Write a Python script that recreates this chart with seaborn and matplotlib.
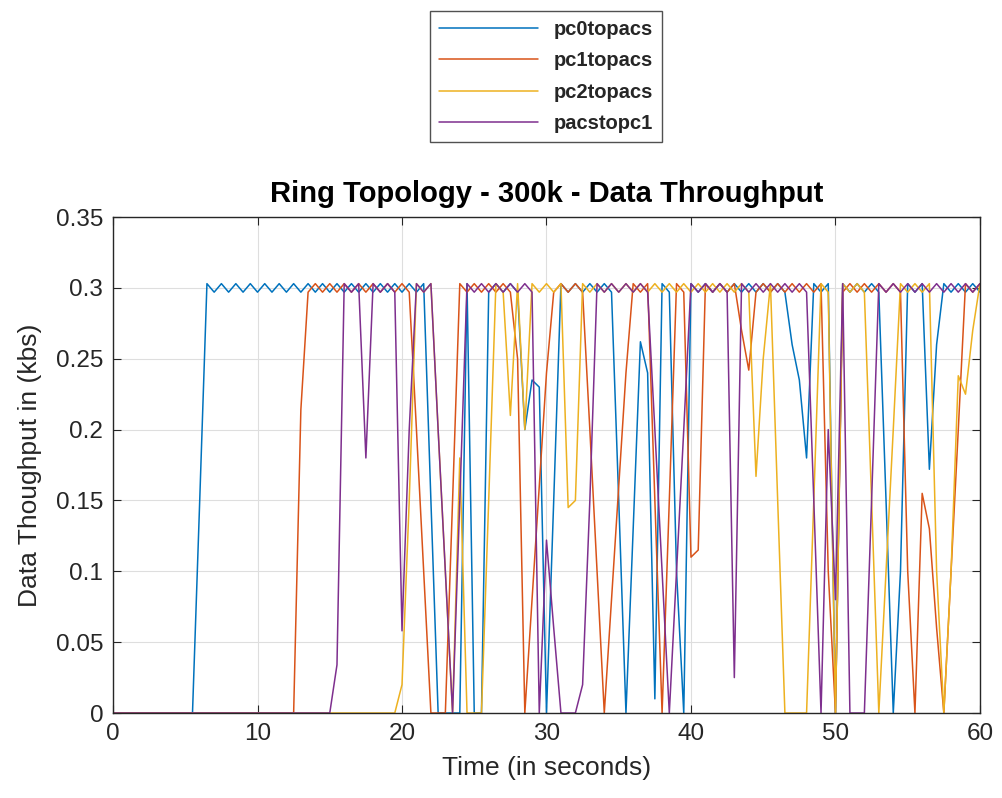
import numpy as np
import pandas as pd
import matplotlib
matplotlib.use("Agg")
import matplotlib.pyplot as plt
import seaborn as sns

# time axis, one sample every 0.5 s
time_s = np.arange(0, 60.5, 0.5)

pc0topacs = [
    0, 0, 0, 0, 0, 0, 0, 0, 0, 0,
    0, 0, .15, .303, .297, .303, .297, .303, .297, .303,
    .297, .303, .297, .303, .297, .303, .297, .303, .297, .303,
    .297, .303, .297, .303, .297, .303, .297, .303, .297, .303,
    .297, .303, .297, .303, .15, 0, 0, 0, 0, .303,
    0, 0, .297, .303, .297, .303, .297, .2, .235, .23,
    0, .15, .303, .297, .303, .297, .303, .297, .303, .297,
    .15, 0, .13, .262, .24, .01, .303, .297, .1, 0,
    .303, .297, .303, .297, .303, .297, .303, .297, .303, .297,
    .303, .297, .303, .297, .26, .235, .18, .303, .297, .303,
    0, .303, .297, .303, .297, .303, .297, .15, 0, .1,
    .303, .297, .303, .172, .26, .303, .297, .303, .297, .303,
    .297,
]

pc1topacs = [
    0, 0, 0, 0, 0, 0, 0, 0, 0, 0,
    0, 0, 0, 0, 0, 0, 0, 0, 0, 0,
    0, 0, 0, 0, 0, 0, .214, .297, .303, .297,
    .303, .297, .303, .297, .303, .297, .303, .297, .303, .297,
    .303, .297, .2, .1, 0, 0, 0, .15, .303, .297,
    .303, .297, .303, .297, .303, .297, .25, 0, .08, .16,
    .24, .297, .303, .297, .303, .297, .2, .1, 0, .08,
    .16, .24, .303, .297, .303, .15, 0, .15, .303, .297,
    .11, .115, .303, .297, .303, .297, .303, .27, .242, .297,
    .303, .297, .303, .297, .303, .297, .303, .297, .303, .1,
    0, .297, .303, .297, .303, .297, .303, .297, .303, .297,
    .1, 0, .155, .13, .06, 0, .1, .2, .303, .297,
    .303,
]

pc2topacs = [
    0, 0, 0, 0, 0, 0, 0, 0, 0, 0,
    0, 0, 0, 0, 0, 0, 0, 0, 0, 0,
    0, 0, 0, 0, 0, 0, 0, 0, 0, 0,
    0, 0, 0, 0, 0, 0, 0, 0, 0, 0,
    .02, .15, .303, .297, .303, .2, .1, 0, .18, 0,
    0, 0, .15, .303, .297, .21, .303, .2, .303, .297,
    .303, .297, .303, .145, .15, .303, .297, .303, .297, .303,
    .297, .303, .297, .303, .297, .303, .297, .303, .297, .303,
    .297, .303, .297, .303, .297, .303, .297, .303, .297, .167,
    .25, .303, .15, 0, 0, 0, 0, .15, .303, .297,
    0, .303, .297, .303, .297, .15, 0, .1, .2, .303,
    .297, .303, .297, .303, .1, 0, .1, .238, .225, .27,
    .303,
]

pacstopc1 = [
    0, 0, 0, 0, 0, 0, 0, 0, 0, 0,
    0, 0, 0, 0, 0, 0, 0, 0, 0, 0,
    0, 0, 0, 0, 0, 0, 0, 0, 0, 0,
    0, .034, .303, .297, .303, .18, .303, .297, .303, .297,
    .058, .2, .303, .297, .303, .2, .1, 0, .15, .303,
    .297, .303, .297, .303, .297, .303, .297, .303, .297, 0,
    .122, .06, 0, 0, 0, .02, .15, .303, .297, .303,
    .297, .303, .297, .303, .297, .2, .1, 0, .1, .2,
    .303, .297, .303, .297, .303, .297, .025, .303, .297, .303,
    .297, .303, .297, .303, .297, .303, .297, .15, 0, .2,
    .08, .303, 0, 0, 0, .15, .303, .297, .303, .297,
    .303, .297, .303, .297, .303, .297, .303, .297, .303, .297,
    .303,
]

series_names = ['pc0topacs', 'pc1topacs', 'pc2topacs', 'pacstopc1']
series_colors = ['#0072BD', '#D95319', '#EDB120', '#7E2F8E']

# long format for seaborn
frames = []
for name, vals in zip(series_names, [pc0topacs, pc1topacs, pc2topacs, pacstopc1]):
    frames.append(pd.DataFrame({'time': time_s, 'value': vals, 'link': name}))
df = pd.concat(frames, ignore_index=True)

sns.set_style('ticks')
plt.rcParams['font.family'] = ['Liberation Sans', 'DejaVu Sans']

fig = plt.figure(figsize=(10.02, 7.98), dpi=100)
ax = fig.add_axes([0.1128, 0.1065, 0.8652, 0.6215])

sns.lineplot(data=df, x='time', y='value', hue='link', palette=series_colors,
             hue_order=series_names, linewidth=1.1, ax=ax, legend=True)

ax.set_xlim(0, 60)
ax.set_ylim(0, 0.35)
ax.set_xticks(range(0, 61, 10))
ax.set_yticks([0, 0.05, 0.1, 0.15, 0.2, 0.25, 0.3, 0.35])
ax.set_yticklabels(['0', '0.05', '0.1', '0.15', '0.2', '0.25', '0.3', '0.35'])
ax.grid(True, color='#dedede', linewidth=0.8)
for sp in ax.spines.values():
    sp.set_visible(True)
    sp.set_color('#262626')
    sp.set_linewidth(1.0)
ax.tick_params(direction='in', length=6, labelsize=17.5, colors='#262626',
               top=True, right=True, pad=7)

ax.set_xlabel('Time (in seconds)', fontsize=19, color='#262626', labelpad=8)
ax.set_ylabel('Data Thoughput in (kbs)', fontsize=19, color='#262626', labelpad=10)
ax.set_title('Ring Topology - 300k - Data Throughput', fontsize=21,
             fontweight='bold', color='#000000', pad=11)

handles, labels = ax.get_legend_handles_labels()
ax.legend_.remove()
leg = fig.legend(handles, labels, loc='upper center', bbox_to_anchor=(0.545, 0.999),
                 frameon=True, fancybox=False, edgecolor='#262626',
                 prop={'weight': 'bold', 'size': 14.5}, handlelength=4.9,
                 borderpad=0.45, labelspacing=0.62, handletextpad=0.8)
leg.get_frame().set_linewidth(1.0)

plt.savefig('out.png', dpi=100)
